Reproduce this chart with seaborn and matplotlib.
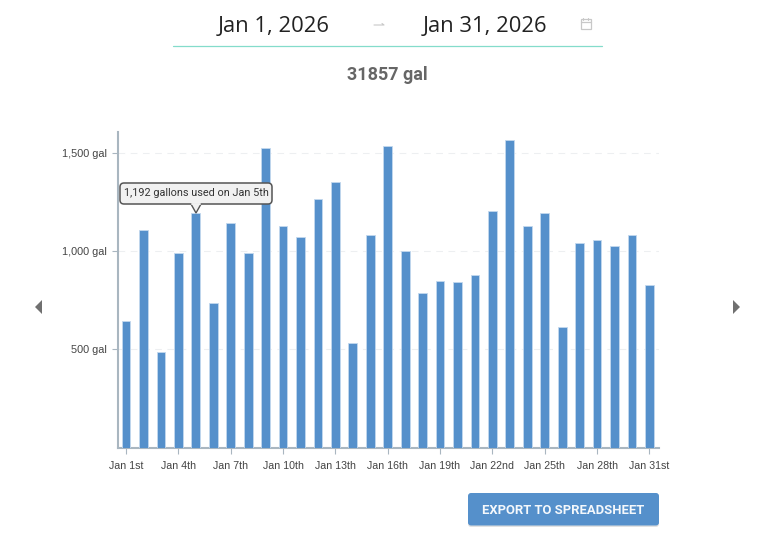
import matplotlib
matplotlib.use('Agg')
import matplotlib.pyplot as plt
import seaborn as sns
from matplotlib.patches import FancyBboxPatch, Polygon, Rectangle

W, H = 773, 539

days = list(range(1, 32))
gallons = [645, 1105, 487, 992, 1192, 735, 1145, 990, 1525, 1125, 1070,
           1265, 1350, 530, 1080, 1535, 1000, 785, 845, 840, 880, 1205,
           1565, 1125, 1195, 612, 1042, 1058, 1026, 1083, 825]
x_ticks = [0, 3, 6, 9, 12, 15, 18, 21, 24, 27, 30]
x_labels = ['Jan 1st', 'Jan 4th', 'Jan 7th', 'Jan 10th', 'Jan 13th', 'Jan 16th',
            'Jan 19th', 'Jan 22nd', 'Jan 25th', 'Jan 28th', 'Jan 31st']
y_ticks = [500, 1000, 1500]
y_labels = ['500 gal', '1,000 gal', '1,500 gal']

BLUE = '#5590CB'
AXIS = '#A9B6C0'
TEXT = '#444444'

sns.set_theme(style='white')
plt.rcParams['font.family'] = ['Liberation Sans', 'DejaVu Sans']

fig = plt.figure(figsize=(W / 100, H / 100), dpi=100, facecolor='white')
left, right, top, bottom = 118, 659, 132, 447.5
ax = fig.add_axes([left / W, 1 - bottom / H, (right - left) / W, (bottom - top) / H])

sns.barplot(x=days, y=gallons, color=BLUE, saturation=1, width=0.5,
            edgecolor='#C3D8EE', linewidth=0.6, ax=ax, zorder=3)

ax.set_xlim(-0.46, 30.55)
ax.set_ylim(0, 1606)
ax.set_xlabel('')
ax.set_ylabel('')
ax.set_xticks(x_ticks)
ax.set_xticklabels(x_labels)
ax.set_yticks(y_ticks)
ax.set_yticklabels(y_labels)
ax.tick_params(axis='x', bottom=True, length=4, width=0.8, color=AXIS,
               labelsize=7.7, labelcolor=TEXT, pad=6)
ax.tick_params(axis='y', left=True, length=4, width=0.8, color=AXIS,
               labelsize=7.8, labelcolor=TEXT, pad=4)
ax.grid(axis='y', color='#EDEFF1', linewidth=0.8, linestyle=(0, (6, 5)), zorder=0)
ax.set_axisbelow(True)
for side in ['top', 'right']:
    ax.spines[side].set_visible(False)
for side in ['left', 'bottom']:
    ax.spines[side].set_color(AXIS)
    ax.spines[side].set_linewidth(1.5)

# overlay in pixel coords for the page furniture around the chart
ov = fig.add_axes([0, 0, 1, 1], facecolor='none')
ov.set_xlim(0, W)
ov.set_ylim(H, 0)
ov.axis('off')

ov.text(274, 26.5, 'Jan 1, 2026', fontsize=15.8, family='Open Sans', color='#222222',
        ha='center', va='center')
ov.text(485, 26.5, 'Jan 31, 2026', fontsize=15.8, family='Open Sans', color='#222222',
        ha='center', va='center')
ov.plot([374, 384, 382], [25, 25, 23.5], color='#C8C8C8', lw=0.8)
ov.plot([173, 602], [45.5, 45.5], color='#84DCCB', lw=0.9)

# calendar icon
ov.add_patch(Rectangle((580.5, 19), 10, 10, fill=False, ec='#C8C8C8', lw=0.9))
ov.plot([580.5, 590.5], [22, 22], color='#C8C8C8', lw=0.9)
ov.plot([583, 583], [18, 20], color='#C8C8C8', lw=0.8)
ov.plot([588, 588], [18, 20], color='#C8C8C8', lw=0.8)

ov.text(387.5, 74.5, '31857 gal', fontsize=13, family='Roboto', weight='bold',
        color='#666666', ha='center', va='center')

# tooltip over the Jan 5th bar
ov.add_patch(FancyBboxPatch((120, 183), 152, 21, boxstyle='round,pad=0,rounding_size=4',
                            fc='#F1F1F1', ec='#555555', lw=1.1, zorder=5))
ov.add_patch(Polygon([[191, 204], [196, 213], [201, 204]], closed=False,
                     fc='#F1F1F1', ec='#555555', lw=1.0, zorder=6))
ov.plot([192, 200], [204, 204], color='#F1F1F1', lw=1.4, zorder=6)
ov.text(196.5, 193.5, '1,192 gallons used on Jan 5th', fontsize=7.8, color='#333333',
        family='Roboto', ha='center', va='center', zorder=7)

# prev / next arrows
ov.add_patch(Polygon([[42, 300], [42, 314], [35, 307]], fc='#707070', ec='none'))
ov.add_patch(Polygon([[733, 300], [733, 314], [740, 307]], fc='#707070', ec='none'))

# export button
ov.add_patch(FancyBboxPatch((468, 495), 191, 32, boxstyle='round,pad=0,rounding_size=3',
                            fc='#C4C4C4', ec='none', alpha=0.5, zorder=1))
ov.add_patch(FancyBboxPatch((468, 493), 191, 32.5, boxstyle='round,pad=0,rounding_size=3',
                            fc=BLUE, ec='none', zorder=2))
ov.text(563.5, 510, 'EXPORT TO SPREADSHEET', fontsize=9.4, family='Roboto', weight='bold',
        color='#F4F8FC', ha='center', va='center', zorder=3)

fig.savefig('out.png', dpi=100, facecolor='white')
